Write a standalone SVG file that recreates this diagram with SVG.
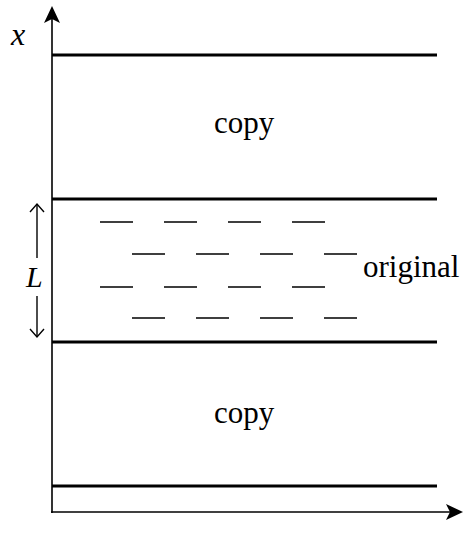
<svg xmlns="http://www.w3.org/2000/svg" width="463" height="557" viewBox="0 0 463 557">
<style>
.t{font-family:"Liberation Serif","Times New Roman",serif;fill:#000}
.i{font-style:italic}
.bar{stroke:#000;stroke-width:3;fill:none}
.ax{stroke:#000;stroke-width:1.6;fill:none}
.d{stroke:#000;stroke-width:1.6;fill:none}
.lh{stroke:#000;stroke-width:1.4;fill:none}
</style>
<rect width="463" height="557" fill="#fff"/>
<g id="connectors">
<line class="ax" x1="52" y1="513" x2="52" y2="18"/>
<polygon points="52,6 60,23 52,19 44,23" fill="#000"/>
<line class="ax" x1="51" y1="512" x2="452" y2="512"/>
<polygon points="463,512 446,504 450,512 446,520" fill="#000"/>
<line class="lh" x1="37" y1="204" x2="37" y2="258"/>
<polyline class="lh" points="30,212 37,204 44,212"/>
<line class="lh" x1="37" y1="296" x2="37" y2="337"/>
<polyline class="lh" points="30,329 37,337 44,329"/>
</g>
<g id="bar1"><line class="bar" x1="52" y1="55" x2="437" y2="55"/></g>
<g id="bar2"><line class="bar" x1="52" y1="199" x2="437" y2="199"/></g>
<g id="bar3"><line class="bar" x1="52" y1="342" x2="437" y2="342"/></g>
<g id="bar4"><line class="bar" x1="52" y1="486" x2="437" y2="486"/></g>
<g id="dashes">
<path class="d" d="M100 222h33M164 222h33M228 222h33M292 222h33"/>
<path class="d" d="M132 254h33M196 254h33M260 254h33M324 254h33"/>
<path class="d" d="M100 287h33M164 287h33M228 287h33M292 287h33"/>
<path class="d" d="M132 318h33M196 318h33M260 318h33M324 318h33"/>
</g>
<g id="labels">
<text class="t i" x="11" y="45" font-size="32">x</text>
<text class="t i" x="26" y="287" font-size="30">L</text>
<text class="t" x="214" y="133" font-size="31">copy</text>
<text class="t" x="214" y="423" font-size="31">copy</text>
<text class="t" x="363" y="277" font-size="31">original</text>
</g>
</svg>
